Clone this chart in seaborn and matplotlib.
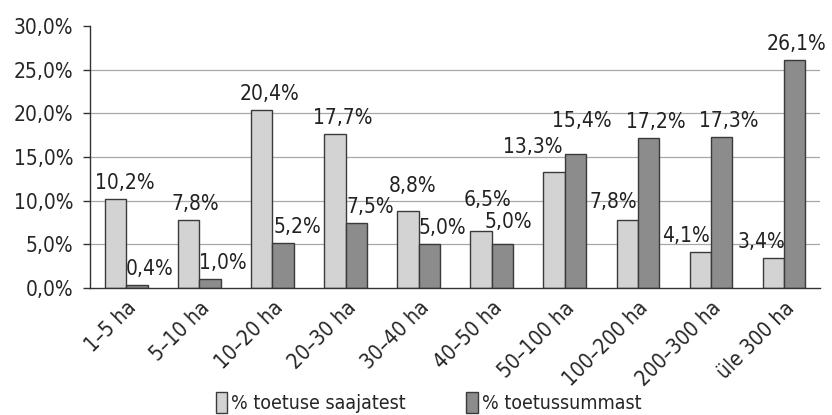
import pandas as pd
import matplotlib.pyplot as plt
import seaborn as sns
from matplotlib.patches import Patch

sns.set_style("white")
plt.rcParams['font.family'] = ['Liberation Sans Narrow', 'DejaVu Sans Condensed',
                               'Noto Sans Condensed', 'DejaVu Sans']
plt.rcParams['font.stretch'] = 'condensed'

# data
categories = ["1–5 ha", "5–10 ha", "10–20 ha", "20–30 ha", "30–40 ha",
              "40–50 ha", "50–100 ha", "100–200 ha", "200–300 ha", "üle 300 ha"]
saajatest = [10.2, 7.8, 20.4, 17.7, 8.8, 6.5, 13.3, 7.8, 4.1, 3.4]
toetussummast = [0.4, 1.0, 5.2, 7.5, 5.0, 5.0, 15.4, 17.2, 17.3, 26.1]
series_names = ["% toetuse saajatest", "% toetussummast"]
colors = ["#d3d3d3", "#8c8c8c"]

# label nudges in pixels (dx, extra dy) as in the original layout
nudge_saajatest = [(9, 0), (6, 0), (8, 0), (8, 0), (5, 9), (6, 15), (-21, 9), (-14, 2), (-14, 0), (-12, 0)]
nudge_summast = [(13, 0), (13, 0), (14, 0), (14, 0), (13, 0), (6, 6), (7, 17), (7, 0), (7, 0), (2, 0)]

df = pd.DataFrame({
    "kategooria": categories * 2,
    "vaartus": saajatest + toetussummast,
    "seeria": [series_names[0]] * len(categories) + [series_names[1]] * len(categories),
})

fig = plt.figure(figsize=(8.32, 4.15), dpi=100)
ax = fig.add_axes([0.108, 0.306, 0.878, 0.631])

sns.barplot(data=df, x="kategooria", y="vaartus", hue="seeria", palette=colors,
            width=0.58, edgecolor="#3a3a3a", linewidth=1.0, saturation=1,
            legend=False, ax=ax, zorder=2)

ax.set_ylim(0, 30)
ax.set_xlim(-0.5, len(categories) - 0.5)
ax.set_yticks(range(0, 31, 5))
ax.set_yticklabels([f"{v:.1f}%".replace(".", ",") for v in range(0, 31, 5)], fontsize=15)
for v in range(5, 30, 5):
    ax.axhline(v, color="#a8a8a8", linewidth=0.9, zorder=0)

ax.set_xticks(range(len(categories)))
ax.set_xticklabels(categories, rotation=45, ha="right", rotation_mode="anchor", fontsize=15)
ax.set_xticks([i - 0.5 for i in range(len(categories) + 1)], minor=True)
ax.tick_params(axis="x", which="major", length=0, pad=7)
ax.tick_params(axis="x", which="minor", length=5, width=1, color="#333333", direction="out")
ax.tick_params(axis="y", length=5, width=1, color="#333333", direction="out", pad=7, left=True)
ax.set_xlabel("")
ax.set_ylabel("")

for s in ["top", "right"]:
    ax.spines[s].set_visible(False)
for s in ["left", "bottom"]:
    ax.spines[s].set_color("#333333")
    ax.spines[s].set_linewidth(1.0)

for cont, vals, nudges in zip(ax.containers, [saajatest, toetussummast],
                              [nudge_saajatest, nudge_summast]):
    for bar, v, (dx, dy) in zip(cont, vals, nudges):
        ax.annotate(f"{v:.1f}%".replace(".", ","),
                    xy=(bar.get_x() + bar.get_width() / 2, bar.get_height()),
                    xytext=(dx, 10 + dy), textcoords="offset pixels",
                    ha="center", va="baseline", fontsize=15, color="#222222", zorder=3)

handles = [Patch(facecolor=c, edgecolor="#3a3a3a", linewidth=1.0) for c in colors]
fig.legend(handles, series_names, loc="center", bbox_to_anchor=(0.515, 0.031),
           ncol=2, frameon=False, fontsize=14, handlelength=0.6, handleheight=1.3,
           handletextpad=0.2, columnspacing=3.1)

fig.savefig("out.png", dpi=100)
